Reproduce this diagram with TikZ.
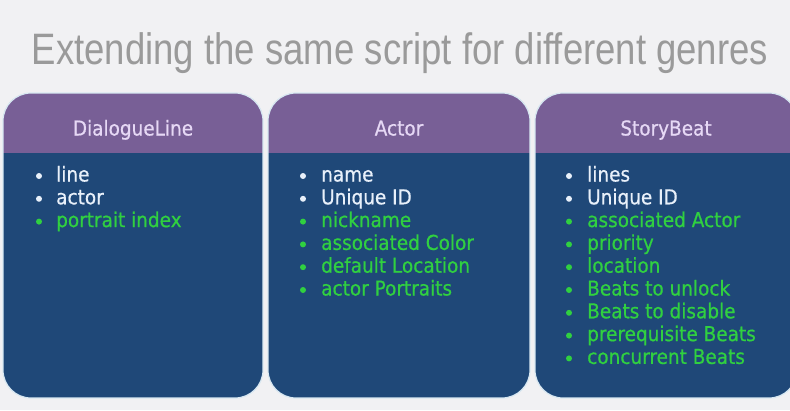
\documentclass[tikz,border=0pt]{standalone}
\usepackage{fontspec}
\setmainfont{DejaVu Sans}[FakeStretch=0.9,FakeBold=0.6]
\newfontfamily\titlefont{Liberation Sans}[FakeStretch=0.83]
\definecolor{bgc}{HTML}{F1F1F3}
\definecolor{hdr}{HTML}{785F96}
\definecolor{bdy}{HTML}{1F4878}
\definecolor{edge}{HTML}{D8E8F2}
\definecolor{hdrtxt}{HTML}{E6D8F5}
\definecolor{wtxt}{HTML}{E8F0FA}
\definecolor{gtxt}{HTML}{30D040}
\definecolor{ttl}{HTML}{9A9A9A}
\tikzset{
  x=1pt,y=1pt,
  itemtxt/.style={anchor=west,inner sep=0pt,text height=15pt,text depth=4pt,font=\fontsize{20.5}{24}\selectfont},
  wit/.style={itemtxt,text=wtxt},
  git/.style={itemtxt,text=gtxt},
  hdrlabel/.style={anchor=center,inner sep=0pt,text height=15pt,text depth=4pt,font=\fontsize{20.5}{24}\selectfont,text=hdrtxt},
  boxshape/.style={rounded corners=28pt},
}
\newcommand{\cardbox}[3]{% x1, x2, name
  \begin{scope}
    \clip[boxshape] (#1,-93) rectangle (#2,-398);
    \fill[bdy] (#1,-93) rectangle (#2,-398);
    \fill[hdr] (#1,-93) rectangle (#2,-153);
  \end{scope}
  \draw[boxshape,edge,line width=1.2pt] (#1,-93) rectangle (#2,-398);
  \coordinate (#3) at ({(#1+#2)/2},-130);
}
\begin{document}
\begin{tikzpicture}
\useasboundingbox (0,0) rectangle (790,-410);
\fill[bgc] (0,0) rectangle (790,-410);
\clip (0,0) rectangle (790,-410);

\node[anchor=base,inner sep=0pt,text=ttl,font=\titlefont\fontsize{44}{48}\selectfont] (title) at (400,-64) {Extending the same script for different genres};

\cardbox{3}{263}{c1}
\cardbox{268}{530}{c2}
\cardbox{535}{797}{c3}

\node[hdrlabel] (h1) at (c1) {DialogueLine};
\node[hdrlabel] (h2) at (c2) {Actor};
\node[hdrlabel] (h3) at (c3) {StoryBeat};

% Box 1 items
\foreach \i/\c/\t [count=\k from 0] in {w/wtxt/line, w/wtxt/actor, g/gtxt/portrait index}{
  \fill[\c] (39,{-176-22.8*\k}) circle (3pt);
  \node[\i it] (a\k) at (56,{-176-22.8*\k}) {\t};
}
% Box 2 items
\foreach \i/\c/\t [count=\k from 0] in {w/wtxt/name, w/wtxt/Unique ID, g/gtxt/nickname, g/gtxt/associated Color, g/gtxt/default Location, g/gtxt/actor Portraits}{
  \fill[\c] (303,{-176-22.8*\k}) circle (3pt);
  \node[\i it] (b\k) at (321,{-176-22.8*\k}) {\t};
}
% Box 3 items
\foreach \i/\c/\t [count=\k from 0] in {w/wtxt/lines, w/wtxt/Unique ID, g/gtxt/associated Actor, g/gtxt/priority, g/gtxt/location, g/gtxt/Beats to unlock, g/gtxt/Beats to disable, g/gtxt/prerequisite Beats, g/gtxt/concurrent Beats}{
  \fill[\c] (569,{-176-22.8*\k}) circle (3pt);
  \node[\i it] (s\k) at (587,{-176-22.8*\k}) {\t};
}
\end{tikzpicture}
\end{document}
